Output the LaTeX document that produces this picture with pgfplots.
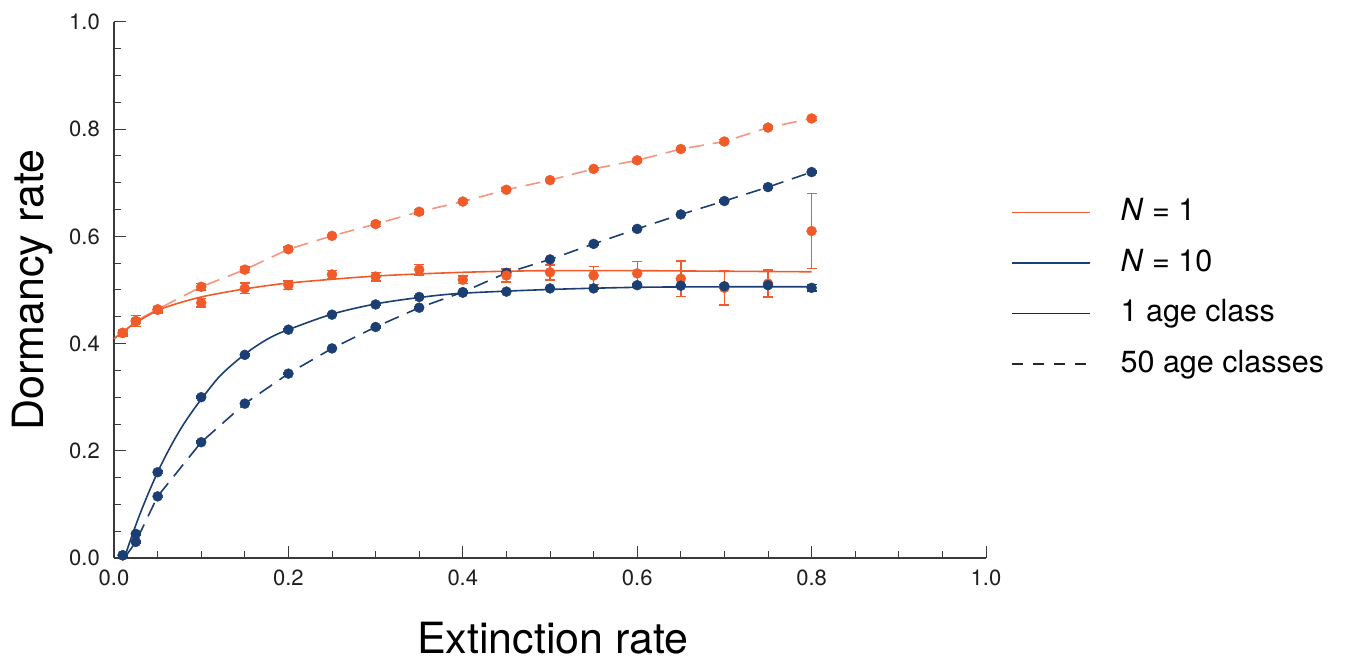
\documentclass[border=0pt]{standalone}
\usepackage{fontspec}
\setmainfont{TeX Gyre Heros}
\usepackage{pgfplots}
\pgfplotsset{compat=1.18}
\definecolor{cOr}{HTML}{F15A29}
\definecolor{cOrL}{HTML}{F4957F}
\definecolor{cBl}{HTML}{1B3F73}
\definecolor{axc}{HTML}{3A3A3A}
\begin{document}
\begin{tikzpicture}[x=1pt,y=1pt]
\useasboundingbox (0,0) rectangle (1351,662);
\begin{axis}[
  at={(114pt,104pt)}, anchor=south west,
  scale only axis, width=872pt, height=536pt,
  xmin=0, xmax=1, ymin=0, ymax=1,
  clip=false,
  axis x line*=bottom, axis y line*=left,
  axis line style={axc, line width=1.3pt, -},
  xtick={0,0.2,0.4,0.6,0.8,1}, ytick={0,0.2,0.4,0.6,0.8,1},
  minor tick num=3,
  tick align=inside,
  major tick length=12pt, minor tick length=7pt,
  every tick/.style={axc, line width=1pt},
  /pgf/number format/assume math mode=true,
  tick label style={font=\fontsize{22}{26}\selectfont, text=black!88,
    /pgf/number format/fixed, /pgf/number format/fixed zerofill,
    /pgf/number format/precision=1},
  xticklabel style={inner sep=0pt, anchor=north, yshift=-12pt},
  yticklabel style={inner sep=0pt, anchor=east, xshift=-14pt},
  xlabel={Extinction rate}, ylabel={Dormancy rate},
  every axis x label/.style={at={(axis description cs:0.5034,-0.149)}, anchor=center, font=\fontsize{43}{50}\selectfont},
  every axis y label/.style={at={(axis description cs:-0.094,0.5)}, rotate=90, anchor=center, font=\fontsize{43}{50}\selectfont},
  legend style={at={(axis description cs:1.0287,0.6715)}, anchor=north west,
    draw=none, fill=none, inner sep=0pt, outer sep=0pt,
    row sep=22pt, column sep=30pt,
    font=\fontsize{30.5}{36}\selectfont,
    nodes={inner sep=0pt, text height=22.5pt, text depth=6pt}},
  legend cell align=left,
  legend image code/.code={\draw[#1] (0pt,0pt) -- (78pt,0pt);},
]
% ---- lines ----
% N=1, 50 age classes (dashed)
\addplot[forget plot, cOrL, line width=1.6pt, dash pattern=on 15pt off 9pt] coordinates {
(0.01,0.420) (0.025,0.442) (0.05,0.464) (0.1,0.506) (0.15,0.538) (0.2,0.576)
(0.25,0.601) (0.3,0.623) (0.35,0.646) (0.4,0.665) (0.45,0.687) (0.5,0.705)
(0.55,0.726) (0.6,0.742) (0.65,0.763) (0.7,0.777) (0.75,0.803) (0.8,0.820)};
% N=10, 50 age classes (dashed)
\addplot[forget plot, cBl, line width=1.6pt, dash pattern=on 15pt off 9pt] coordinates {
(0.012,0.0) (0.025,0.030) (0.05,0.115) (0.1,0.216) (0.15,0.288) (0.2,0.344)
(0.25,0.391) (0.3,0.431) (0.35,0.467) (0.4,0.496) (0.45,0.532) (0.5,0.557)
(0.55,0.586) (0.6,0.614) (0.65,0.641) (0.7,0.666) (0.75,0.692) (0.8,0.720)};
% N=1, 1 age class (fitted curve)
\addplot[forget plot, cOr, line width=1.6pt, smooth] coordinates {
(0,0.409) (0.01,0.422) (0.025,0.439) (0.05,0.462) (0.075,0.476) (0.1,0.487)
(0.125,0.495) (0.15,0.502) (0.175,0.508) (0.2,0.513) (0.25,0.520) (0.3,0.526)
(0.35,0.530) (0.4,0.533) (0.45,0.535) (0.5,0.536) (0.6,0.536) (0.7,0.535) (0.8,0.534)};
% N=10, 1 age class (fitted curve)
\addplot[forget plot, cBl, line width=1.6pt, smooth] coordinates {
(0.012,0.0) (0.02,0.039) (0.03,0.083) (0.04,0.123) (0.05,0.160) (0.06,0.193)
(0.07,0.223) (0.08,0.250) (0.09,0.274) (0.1,0.296) (0.12,0.337) (0.14,0.367)
(0.16,0.392) (0.18,0.412) (0.2,0.426) (0.25,0.455) (0.3,0.474) (0.35,0.486)
(0.4,0.494) (0.5,0.501) (0.6,0.505) (0.7,0.506) (0.8,0.506)};
% ---- points ----
\addplot[forget plot, only marks, mark=*, mark size=5pt, cOr,
  error bars/.cd, y dir=both, y explicit,
  error bar style={line width=1.4pt, cOr},
  error mark options={rotate=90, mark size=5pt, line width=1.4pt, cOr}] coordinates {
(0.01,0.420) +- (0,0.004) (0.025,0.442) +- (0,0.004) (0.05,0.464) +- (0,0.005)
(0.1,0.506) +- (0,0.006) (0.15,0.538) +- (0,0.005) (0.2,0.576) +- (0,0.004)
(0.25,0.601) +- (0,0.003) (0.3,0.623) +- (0,0.004) (0.35,0.646) +- (0,0.004)
(0.4,0.665) +- (0,0.004) (0.45,0.687) +- (0,0.003) (0.5,0.705) +- (0,0.003)
(0.55,0.726) +- (0,0.003) (0.6,0.742) +- (0,0.003) (0.65,0.763) +- (0,0.003)
(0.7,0.777) +- (0,0.004) (0.75,0.803) +- (0,0.004) (0.8,0.820) +- (0,0.004)};
\addplot[forget plot, only marks, mark=*, mark size=5pt, cBl,
  error bars/.cd, y dir=both, y explicit,
  error bar style={line width=1.4pt, cBl},
  error mark options={rotate=90, mark size=5pt, line width=1.4pt, cBl}] coordinates {
(0.01,0.005) +- (0,0.002) (0.025,0.030) +- (0,0.002) (0.05,0.115) +- (0,0.002)
(0.1,0.216) +- (0,0.002) (0.15,0.288) +- (0,0.002) (0.2,0.344) +- (0,0.002)
(0.25,0.391) +- (0,0.002) (0.3,0.431) +- (0,0.002) (0.35,0.467) +- (0,0.002)
(0.4,0.496) +- (0,0.002) (0.45,0.532) +- (0,0.002) (0.5,0.557) +- (0,0.002)
(0.55,0.586) +- (0,0.002) (0.6,0.614) +- (0,0.002) (0.65,0.641) +- (0,0.002)
(0.7,0.666) +- (0,0.002) (0.75,0.692) +- (0,0.002) (0.8,0.720) +- (0,0.002)};
\addplot[forget plot, only marks, mark=*, mark size=5pt, cOr,
  error bars/.cd, y dir=both, y explicit,
  error bar style={line width=1.4pt, cOr},
  error mark options={rotate=90, mark size=5pt, line width=1.4pt, cOr}] coordinates {
(0.01,0.420) +- (0,0.006) (0.025,0.442) +- (0,0.010) (0.05,0.463) +- (0,0.006)
(0.1,0.476) +- (0,0.008) (0.15,0.503) +- (0,0.010) (0.2,0.509) +- (0,0.008)
(0.25,0.529) +- (0,0.007) (0.3,0.525) +- (0,0.008) (0.35,0.538) +- (0,0.010)
(0.4,0.519) +- (0,0.007) (0.45,0.527) +- (0,0.012) (0.5,0.533) +- (0,0.014)
(0.55,0.527) +- (0,0.017) (0.6,0.531) +- (0,0.022) (0.65,0.521) +- (0,0.033)
(0.7,0.504) +- (0,0.032) (0.75,0.512) +- (0,0.025) (0.8,0.610) +- (0,0.070)};
\addplot[forget plot, only marks, mark=*, mark size=5pt, cBl,
  error bars/.cd, y dir=both, y explicit,
  error bar style={line width=1.4pt, cBl},
  error mark options={rotate=90, mark size=5pt, line width=1.4pt, cBl}] coordinates {
(0.01,0.005) +- (0,0.002) (0.025,0.045) +- (0,0.002) (0.05,0.160) +- (0,0.002)
(0.1,0.300) +- (0,0.002) (0.15,0.379) +- (0,0.002) (0.2,0.426) +- (0,0.002)
(0.25,0.454) +- (0,0.002) (0.3,0.473) +- (0,0.002) (0.35,0.487) +- (0,0.002)
(0.4,0.495) +- (0,0.002) (0.45,0.497) +- (0,0.002) (0.5,0.503) +- (0,0.002)
(0.55,0.503) +- (0,0.002) (0.6,0.509) +- (0,0.002) (0.65,0.508) +- (0,0.002)
(0.7,0.507) +- (0,0.003) (0.75,0.509) +- (0,0.003) (0.8,0.504) +- (0,0.006)};
% ---- legend ----
\addlegendimage{cOr, line width=1.6pt}
\addlegendentry{\textit{N} = 1}
\addlegendimage{cBl, line width=1.6pt}
\addlegendentry{\textit{N} = 10}
\addlegendimage{black!85, line width=1.6pt}
\addlegendentry{1 age class}
\addlegendimage{black!85, line width=1.6pt, dash pattern=on 11pt off 10pt}
\addlegendentry{50 age classes}
\end{axis}
\end{tikzpicture}
\end{document}
